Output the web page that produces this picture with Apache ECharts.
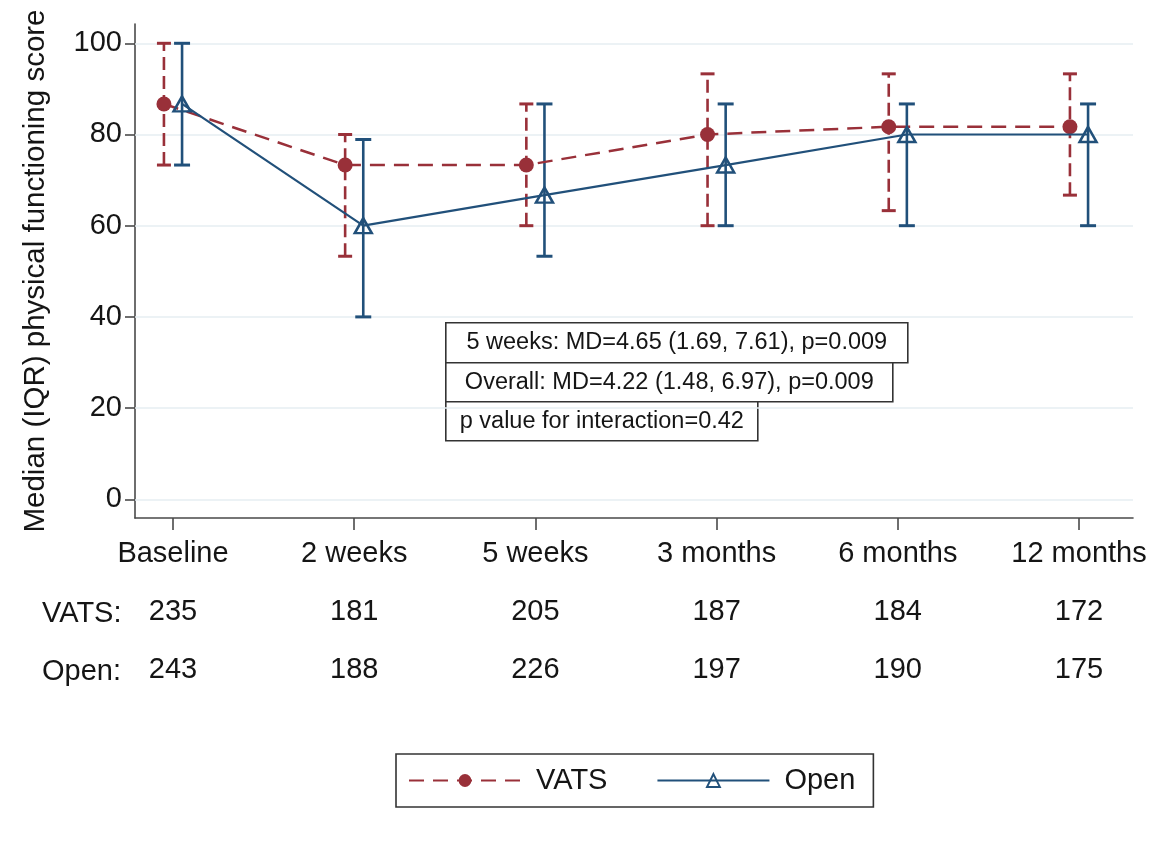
<!DOCTYPE html>
<html>
<head>
<meta charset="utf-8">
<script src="https://cdn.jsdelivr.net/npm/echarts@6/dist/echarts.min.js"></script>
<style>
html,body{margin:0;padding:0;background:#fff;}
#chart{width:1175px;height:843px;}
</style>
</head>
<body>
<div id="chart"></div>
<script>
const categories = ['Baseline', '2 weeks', '5 weeks', '3 months', '6 months', '12 months'];
const vatsMedian = [86.7, 73.3, 73.3, 80, 81.7, 81.7];
const vatsQ1 = [73.3, 53.3, 60, 60, 63.3, 66.7];
const vatsQ3 = [100, 80, 86.7, 93.3, 93.3, 93.3];
const openMedian = [86.7, 60, 66.7, 73.3, 80, 80];
const openQ1 = [73.3, 40, 53.3, 60, 60, 60];
const openQ3 = [100, 78.9, 86.7, 86.7, 86.7, 86.7];
const vatsN = [235, 181, 205, 187, 184, 172];
const openN = [243, 188, 226, 197, 190, 175];
const yTicks = [0, 20, 40, 60, 80, 100];
const annotations = [
  '5 weeks: MD=4.65 (1.69, 7.61), p=0.009',
  'Overall: MD=4.22 (1.48, 6.97), p=0.009',
  'p value for interaction=0.42'
];

const RED = '#993039';
const BLUE = '#21507a';
const FONT = '"Liberation Sans", Arial, Helvetica, sans-serif';
const TXT = '#151515';
const AX = '#4a4a4a';
const OFF = 0.05;
const xIdx = categories.map((c, i) => i);

function errBar(color, dash, capHalf) {
  return function (params, api) {
    const x = api.value(0), lo = api.value(1), hi = api.value(2);
    const a = api.coord([x, lo]), b = api.coord([x, hi]);
    return {
      type: 'group',
      children: [
        {type: 'line', shape: {x1: a[0], y1: a[1], x2: b[0], y2: b[1]},
         style: {stroke: color, lineWidth: 2.6, lineDash: dash}},
        {type: 'line', shape: {x1: b[0] - capHalf, y1: b[1], x2: b[0] + capHalf, y2: b[1]},
         style: {stroke: color, lineWidth: 3}},
        {type: 'line', shape: {x1: a[0] - capHalf, y1: a[1], x2: a[0] + capHalf, y2: a[1]},
         style: {stroke: color, lineWidth: 3}}
      ]
    };
  };
}

const chart = echarts.init(document.getElementById('chart'), null, {renderer: 'canvas'});

const boxes = [
  {x: 445, y: 322, w: 462, h: 40},
  {x: 445, y: 362, w: 447, h: 39},
  {x: 445, y: 401, w: 312, h: 39}
];

const graphics = [];
annotations.forEach((t, k) => {
  const b = boxes[k];
  graphics.push({
    type: 'group', left: b.x, top: b.y, z: 50,
    children: [
      {type: 'rect', shape: {x: 0, y: 0, width: b.w, height: b.h},
       style: {fill: '#fff', stroke: '#333', lineWidth: 1.6}},
      {type: 'text', x: b.w / 2, y: b.h / 2,
       style: {text: t, font: '23.5px ' + FONT, fill: TXT, align: 'center', verticalAlign: 'middle'}}
    ]
  });
});
graphics.push({type: 'text', left: 42, top: 599,
  style: {text: 'VATS:', font: '29px ' + FONT, fill: TXT}});
graphics.push({type: 'text', left: 42, top: 657,
  style: {text: 'Open:', font: '29px ' + FONT, fill: TXT}});

const option = {
  backgroundColor: '#fff',
  animation: false,
  textStyle: {fontFamily: FONT},
  grid: {left: 135, right: 42, top: 24, bottom: 325, containLabel: false},
  xAxis: {
    type: 'value', min: -0.2097, max: 5.298,
    axisLine: {show: true, onZero: false, lineStyle: {color: AX, width: 1.6}},
    axisTick: {show: true, length: 12, customValues: xIdx, lineStyle: {color: AX, width: 1.6}},
    axisLabel: {
      show: true, customValues: xIdx, margin: 7,
      fontSize: 29, lineHeight: 58, color: TXT, fontFamily: FONT,
      formatter: function (v) {
        const i = Math.round(v);
        return categories[i] + '\n' + vatsN[i] + '\n' + openN[i];
      }
    },
    splitLine: {show: false}
  },
  yAxis: {
    type: 'value', min: -4.1, max: 104.23,
    name: 'Median (IQR) physical functioning score',
    nameLocation: 'middle', nameGap: 84,
    nameTextStyle: {fontSize: 29.5, color: TXT, fontFamily: FONT},
    axisLine: {show: true, onZero: false, lineStyle: {color: AX, width: 1.6}},
    axisTick: {show: true, length: 10, customValues: yTicks, lineStyle: {color: AX, width: 1.6}},
    axisLabel: {show: true, customValues: yTicks, margin: 13, fontSize: 29, color: TXT, fontFamily: FONT},
    splitLine: {show: false}
  },
  legend: {
    data: ['VATS', 'Open'],
    left: 396, top: 754,
    orient: 'horizontal',
    itemWidth: 112, itemHeight: 16, itemGap: 49,
    padding: [12, 18, 12, 12],
    borderColor: '#333', borderWidth: 1.6,
    textStyle: {fontSize: 29, color: TXT, fontFamily: FONT, padding: [0, 0, 0, 10]}
  },
  graphic: graphics,
  series: [
    {
      name: 'grid', type: 'line', data: [], z: 0, silent: true,
      markLine: {
        silent: true, symbol: ['none', 'none'], label: {show: false}, z: 1,
        lineStyle: {color: '#e6eef2', width: 1.6, type: 'solid'},
        data: yTicks.map(v => ({yAxis: v}))
      }
    },
    {
      name: 'VATS IQR', type: 'custom', z: 6,
      renderItem: errBar(RED, [13, 6], 7),
      encode: {x: 0, y: [1, 2]},
      data: xIdx.map(i => [i - OFF, vatsQ1[i], vatsQ3[i]])
    },
    {
      name: 'Open IQR', type: 'custom', z: 6,
      renderItem: errBar(BLUE, null, 8),
      encode: {x: 0, y: [1, 2]},
      data: xIdx.map(i => [i + OFF, openQ1[i], openQ3[i]])
    },
    {
      name: 'VATS', type: 'line', z: 7,
      data: xIdx.map(i => [i - OFF, vatsMedian[i]]),
      symbol: 'circle', symbolSize: 15, showAllSymbol: true,
      lineStyle: {color: RED, width: 2.5, type: [15, 9]},
      itemStyle: {color: RED, borderWidth: 0}
    },
    {
      name: 'Open', type: 'line', z: 8,
      data: xIdx.map(i => [i + OFF, openMedian[i]]),
      symbol: 'triangle', symbolSize: [17, 15], showAllSymbol: true,
      lineStyle: {color: BLUE, width: 2.2, type: 'solid'},
      itemStyle: {color: 'rgba(255,255,255,0)', borderColor: BLUE, borderWidth: 2.5}
    }
  ]
};
chart.setOption(option);
</script>
</body>
</html>
